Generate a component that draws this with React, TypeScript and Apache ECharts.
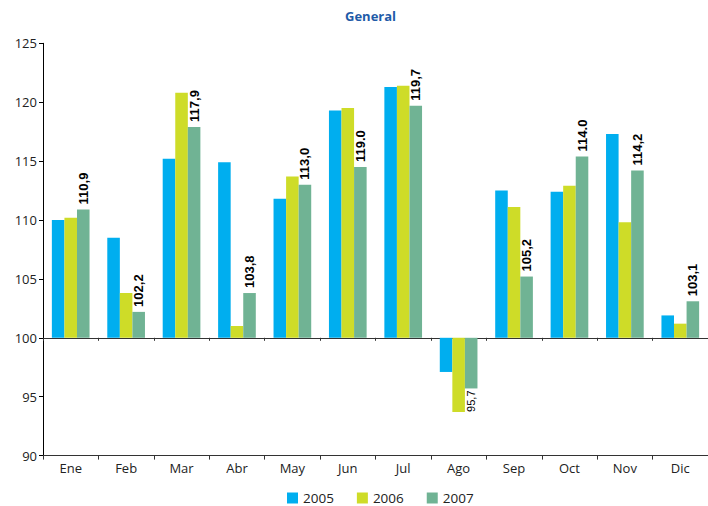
import React, { useEffect, useRef } from "react";
import * as echarts from "echarts";

const categories = ["Ene", "Feb", "Mar", "Abr", "May", "Jun", "Jul", "Ago", "Sep", "Oct", "Nov", "Dic"];
const seriesNames = ["2005", "2006", "2007"];
const values2005 = [110.0, 108.5, 115.2, 114.9, 111.8, 119.3, 121.3, 97.1, 112.5, 112.4, 117.3, 101.9];
const values2006 = [110.2, 103.8, 120.8, 101.0, 113.7, 119.5, 121.4, 93.7, 111.1, 112.9, 109.8, 101.2];
const values2007 = [110.9, 102.2, 117.9, 103.8, 113.0, 114.5, 119.7, 95.7, 105.2, 115.4, 114.2, 103.1];
const labels2007 = ["110,9", "102,2", "117,9", "103,8", "113,0", "119.0", "119,7", "95,7", "105,2", "114.0", "114,2", "103,1"];
const BASE = 100;
const Y_MIN = 90;
const Y_MAX = 125;
const Y_STEP = 5;

const colors = ["#00aeef", "#cedc28", "#70b394"];

export default function App() {
  const ref = useRef<HTMLDivElement>(null);
  useEffect(() => {
    if (!ref.current) return;
    const chart = echarts.init(ref.current, null, { renderer: "svg" });
    const toDelta = (v: number) => Math.round((v - BASE) * 100) / 100;
    const font = "'Open Sans', sans-serif";
    const mkBar = (name: string, vals: number[], idx: number, withLabels: boolean) => ({
      name,
      type: "bar",
      xAxisIndex: 0,
      yAxisIndex: 0,
      barGap: "0%",
      barCategoryGap: "32%",
      itemStyle: { color: colors[idx] },
      data: vals.map((v) => {
        const d = toDelta(v);
        if (withLabels && d < 0) {
          return {
            value: d,
            label: {
              position: "bottom",
              align: "right",
              fontSize: 11,
              fontWeight: "normal",
              distance: 2,
            },
          };
        }
        return d;
      }),
      label: withLabels
        ? {
            show: true,
            position: "top",
            rotate: 90,
            align: "left",
            verticalAlign: "middle",
            distance: 5,
            color: "#000",
            fontFamily: "'Liberation Sans', Arial, sans-serif",
            fontWeight: "bold",
            fontSize: 13,
            formatter: (p: any) => labels2007[p.dataIndex],
          }
        : { show: false },
    });
    chart.setOption({
      animation: false,
      title: {
        text: "General",
        left: 345,
        top: 9,
        padding: 0,
        textStyle: { color: "#1f5ba8", fontWeight: "bold", fontSize: 13, fontFamily: font },
      },
      legend: {
        data: seriesNames,
        left: 287,
        top: 491,
        padding: 0,
        itemWidth: 11,
        itemHeight: 11,
        itemGap: 23,
        icon: "rect",
        textStyle: { color: "#222", fontSize: 13.5, lineHeight: 14, fontFamily: font },
      },
      grid: { left: 43, right: -7, top: 43.3, bottom: 506 - 455.6 },
      xAxis: [
        {
          type: "category",
          data: categories,
          position: "bottom",
          boundaryGap: true,
          axisLine: { onZero: false, lineStyle: { color: "#333", width: 1 } },
          axisTick: { show: true, length: 4, lineStyle: { color: "#333" } },
          axisLabel: { color: "#222", fontSize: 13, fontFamily: font, margin: 6 },
          splitLine: { show: false },
        },
        {
          type: "category",
          data: categories,
          position: "top",
          boundaryGap: true,
          axisLine: { show: true, onZero: true, lineStyle: { color: "#333", width: 1 } },
          axisTick: { show: true, inside: true, length: 3, lineStyle: { color: "#333" } },
          axisLabel: { show: false },
          splitLine: { show: false },
        },
      ],
      yAxis: {
        type: "value",
        min: Y_MIN - BASE,
        max: Y_MAX - BASE,
        interval: Y_STEP,
        axisLine: { show: true, lineStyle: { color: "#000", width: 1 } },
        axisTick: { show: true, length: 4, lineStyle: { color: "#000" } },
        axisLabel: {
          color: "#222",
          fontSize: 13,
          fontFamily: font,
          margin: 6,
          formatter: (v: number) => String(v + BASE),
        },
        splitLine: { show: false },
      },
      series: [
        mkBar(seriesNames[0], values2005, 0, false),
        mkBar(seriesNames[1], values2006, 1, false),
        mkBar(seriesNames[2], values2007, 2, true),
      ],
    });
    return () => chart.dispose();
  }, []);
  return (
    <div
      ref={ref}
      style={{ position: "absolute", left: 0, top: 0, width: 708, height: 506, background: "#fff" }}
    />
  );
}
